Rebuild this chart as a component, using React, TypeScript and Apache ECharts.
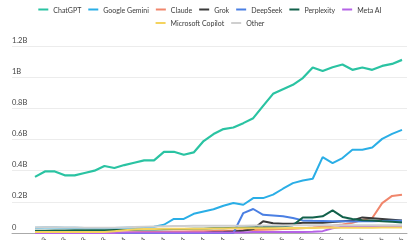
import React, { useEffect, useRef } from "react";
import * as echarts from "echarts";

const months = [
  "Apr 2023","May 2023","Jun 2023","Jul 2023","Aug 2023","Sep 2023","Oct 2023","Nov 2023","Dec 2023",
  "Jan 2024","Feb 2024","Mar 2024","Apr 2024","May 2024","Jun 2024","Jul 2024","Aug 2024","Sep 2024","Oct 2024","Nov 2024","Dec 2024",
  "Jan 2025","Feb 2025","Mar 2025","Apr 2025","May 2025","Jun 2025","Jul 2025","Aug 2025","Sep 2025","Oct 2025","Nov 2025","Dec 2025",
  "Jan 2026","Feb 2026","Mar 2026","Apr 2026","May 2026",
];

const yTicks = [0, 0.2, 0.4, 0.6, 0.8, 1, 1.2];

const chatgpt = [0.36,0.395,0.395,0.37,0.37,0.385,0.40,0.43,0.417,0.436,0.451,0.466,0.466,0.521,0.521,0.502,0.517,0.59,0.635,0.667,0.677,0.705,0.737,0.816,0.893,0.923,0.951,0.994,1.062,1.040,1.064,1.081,1.047,1.062,1.047,1.072,1.085,1.111];
const gemini = [0.034,0.035,0.035,0.034,0.033,0.032,0.031,0.031,0.032,0.034,0.036,0.038,0.040,0.053,0.09,0.09,0.123,0.138,0.152,0.175,0.192,0.181,0.224,0.224,0.246,0.284,0.32,0.337,0.348,0.487,0.449,0.481,0.534,0.534,0.549,0.604,0.636,0.662];
const claude = [0,0,0,0,0,0,0,0,0.003,0.004,0.005,0.006,0.007,0.008,0.009,0.01,0.011,0.012,0.013,0.014,0.015,0.017,0.019,0.021,0.023,0.025,0.028,0.031,0.035,0.04,0.047,0.055,0.065,0.085,0.096,0.192,0.238,0.246];
const grok = [0,0,0,0,0,0,0,0,0,0,0,0,0,0,0,0,0,0,0.005,0.006,0.01,0.015,0.025,0.075,0.062,0.06,0.06,0.065,0.066,0.066,0.07,0.075,0.08,0.1,0.095,0.09,0.085,0.08];
const deepseek = [0,0,0,0,0,0,0,0,0,0,0,0,0,0,0,0,0,0,0,0,0,0.128,0.154,0.117,0.113,0.107,0.096,0.081,0.078,0.077,0.076,0.075,0.074,0.075,0.076,0.077,0.078,0.079];
const perplexity = [0.015,0.015,0.016,0.016,0.017,0.017,0.018,0.018,0.019,0.02,0.021,0.022,0.023,0.024,0.025,0.026,0.027,0.028,0.03,0.031,0.033,0.035,0.037,0.038,0.04,0.043,0.05,0.1,0.1,0.107,0.145,0.103,0.09,0.082,0.08,0.075,0.072,0.068];
const metaAI = [0,0,0,0,0,0,0,0,0,0.004,0.004,0.004,0.004,0.004,0.004,0.004,0.004,0.004,0.004,0.004,0.004,0.004,0.006,0.006,0.006,0.006,0.006,0.007,0.008,0.012,0.03,0.04,0.042,0.042,0.042,0.042,0.042,0.042];
const copilot = [0.006,0.006,0.006,0.006,0.006,0.006,0.006,0.006,0.012,0.018,0.022,0.025,0.026,0.027,0.027,0.028,0.028,0.028,0.029,0.029,0.03,0.03,0.03,0.031,0.031,0.031,0.032,0.032,0.032,0.033,0.033,0.033,0.034,0.034,0.034,0.035,0.035,0.035];
const other = [0.036,0.037,0.037,0.036,0.035,0.034,0.033,0.033,0.034,0.036,0.038,0.040,0.042,0.044,0.045,0.045,0.046,0.046,0.046,0.047,0.047,0.047,0.048,0.048,0.048,0.048,0.049,0.049,0.049,0.05,0.05,0.05,0.05,0.05,0.05,0.05,0.05,0.05];

const seriesNames = ["ChatGPT","Google Gemini","Claude","Grok","DeepSeek","Perplexity","Meta AI","Microsoft Copilot","Other"];
const seriesData = [chatgpt, gemini, claude, grok, deepseek, perplexity, metaAI, copilot, other];
const seriesColors = ["#2ac3a2","#2aaee6","#f0866c","#3a3a3a","#4a7fe3","#12614b","#b563e6","#f4d35e","#cfcfcf"];

export default function App() {
  const ref = useRef<HTMLDivElement>(null);
  useEffect(() => {
    if (!ref.current) return;
    const chart = echarts.init(ref.current, null, { renderer: "svg" });
    const font = "Lato, 'Noto Sans', sans-serif";
    const legendBase = {
      left: "center",
      padding: 0,
      icon: "rect",
      itemWidth: 10,
      itemHeight: 2,
      itemGap: 7,
      textStyle: { fontSize: 7, color: "#3a3a3a", fontFamily: font },
    };
    chart.setOption({
      animation: false,
      textStyle: { fontFamily: font },
      legend: [
        { ...legendBase, data: seriesNames.slice(0, 7), top: 6 },
        { ...legendBase, data: seriesNames.slice(7), top: 19.5 },
      ],
      grid: [
        { left: 35, right: 18, top: 46, bottom: 7, containLabel: false, outerBoundsMode: "none" },
        { left: 12, right: 13, top: 46, bottom: 7, containLabel: false, outerBoundsMode: "none" },
      ],
      xAxis: [
        {
          type: "category",
          gridIndex: 0,
          data: months,
          boundaryGap: false,
          axisLine: { show: false },
          axisTick: { show: false },
          axisLabel: {
            rotate: 45,
            fontSize: 7,
            color: "#444",
            margin: 5,
            interval: (i: number) => i % 2 === 1,
          },
        },
        {
          type: "category",
          gridIndex: 1,
          data: months,
          axisLine: { show: true, lineStyle: { color: "#aaaaaa", width: 1 } },
          axisTick: { show: false },
          axisLabel: { show: false },
        },
      ],
      yAxis: [
        { type: "value", gridIndex: 0, min: 0, max: 1.2, interval: 0.2, show: false },
        {
          type: "value",
          gridIndex: 1,
          min: 0,
          max: 1.2,
          interval: 0.2,
          axisLine: { show: false },
          axisTick: { show: false },
          splitLine: { lineStyle: { color: "#ececec", width: 1 } },
          axisLabel: {
            inside: true,
            margin: 0,
            align: "left",
            verticalAlign: "bottom",
            padding: [0, 0, 2, 0],
            fontSize: 7.5,
            color: "#444",
            formatter: (v: number) => (v === 0 ? "0" : `${+v.toFixed(1)}B`),
          },
        },
      ],
      series: seriesNames.map((name, i) => ({
        name,
        type: "line",
        xAxisIndex: 0,
        yAxisIndex: 0,
        data: seriesData[i],
        showSymbol: false,
        symbol: "none",
        lineStyle: { width: i === 0 ? 2.2 : 2, color: seriesColors[i] },
        itemStyle: { color: seriesColors[i] },
      })),
    });
    return () => chart.dispose();
  }, []);
  return (
    <div
      ref={ref}
      style={{ position: "fixed", left: 0, top: 0, width: 420, height: 240 }}
    />
  );
}
